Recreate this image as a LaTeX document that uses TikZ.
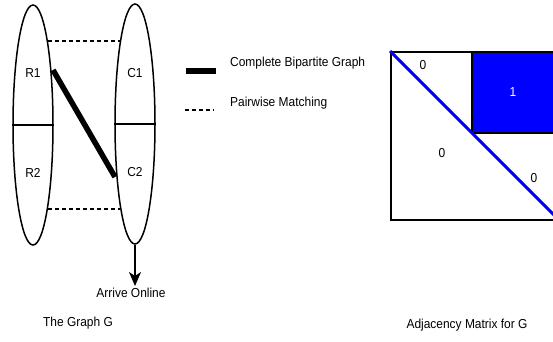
\documentclass[tikz,border=0pt]{standalone}
\usepackage{fontspec}
\setmainfont[FakeStretch=0.92]{Liberation Sans}
\usetikzlibrary{shapes.geometric,arrows.meta}
\begin{document}
\begin{tikzpicture}[x=1pt,y=-1pt,
  lbl/.style={font=\fontsize{13}{15}\selectfont, inner sep=0pt},
  part/.style={draw, ellipse, line width=1.5pt, minimum width=40pt, minimum height=240pt, inner sep=0pt},
  divider/.style={line width=1.2pt},
  match/.style={line width=1.5pt, dash pattern=on 4pt off 3pt},
  bip/.style={line width=5.5pt},
  mat/.style={line width=1.8pt}]
\useasboundingbox (0,0) rectangle (553,341);
\clip (0,0) rectangle (553,341);
% graph
\node[part] (L) at (33,125) {};
\node[part] (R) at (135,124) {};
\draw[divider] (L.west) -- (L.east);
\draw[divider] (R.west) -- (R.east);
\node[lbl] (r1) at (33,73) {R1};
\node[lbl] (r2) at (33,173) {R2};
\node[lbl] (c1) at (135,73) {C1};
\node[lbl] (c2) at (135,172) {C2};
\coordinate (a1) at (48,41);
\coordinate (b1) at (120,41);
\coordinate (a2) at (48,209);
\coordinate (b2) at (120,209);
\draw[match] (a1) -- (b1);
\draw[match] (a2) -- (b2);
\coordinate (t1) at (53,70);
\coordinate (t2) at (115,177);
\draw[bip] (t1) -- (t2);
\coordinate (ah) at (135,286);
\draw[line width=1.5pt,-{Stealth[length=14pt,width=12pt,inset=4pt]}] (R.south) -- (ah);
\node[lbl] (arr) at (131,293) {Arrive Online};
\node[lbl] (tg) at (78,323) {The Graph G};
% legend
\coordinate (l1) at (186,71);
\coordinate (l2) at (216,71);
\draw[line width=5.5pt] (l1) -- (l2);
\node[lbl, anchor=west] (lt1) at (230,63) {Complete Bipartite Graph};
\coordinate (m1) at (185,110);
\coordinate (m2) at (214,110);
\draw[match] (m1) -- (m2);
\node[lbl, anchor=west] (lt2) at (230,103) {Pairwise Matching};
% matrix
\node[draw, mat, fill=blue, minimum width=90pt, minimum height=81pt, anchor=north west, inner sep=0pt] (blk) at (471,51) {};
\node[draw, mat, minimum width=168pt, minimum height=168pt, anchor=north west, inner sep=0pt] (sq) at (390,51) {};
\draw[blue, line width=3pt] (sq.north west) -- (sq.south east);
\node[lbl] (z1) at (423,65) {0};
\node[lbl, white] (o1) at (513,92) {1};
\node[lbl] (z2) at (442,153) {0};
\node[lbl] (z3) at (534,178) {0};
\node[lbl] (am) at (467,325) {Adjacency Matrix for G};
\end{tikzpicture}
\end{document}
